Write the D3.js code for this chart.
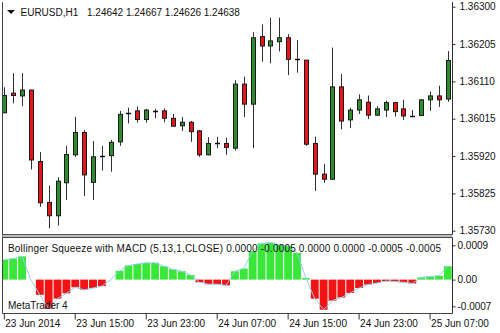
<!DOCTYPE html>
<html><head><meta charset="utf-8">
<script src="https://cdn.jsdelivr.net/npm/d3@7"></script>
<style>html,body{margin:0;padding:0;background:#fff;}svg{display:block;}</style>
</head><body>
<svg id="c" width="500" height="333"></svg>
<script>
// ---- data ----
const times = [
 "23 Jun 07:00","23 Jun 08:00","23 Jun 09:00","23 Jun 10:00","23 Jun 11:00","23 Jun 12:00","23 Jun 13:00","23 Jun 14:00",
 "23 Jun 15:00","23 Jun 16:00","23 Jun 17:00","23 Jun 18:00","23 Jun 19:00","23 Jun 20:00","23 Jun 21:00","23 Jun 22:00",
 "23 Jun 23:00","24 Jun 00:00","24 Jun 01:00","24 Jun 02:00","24 Jun 03:00","24 Jun 04:00","24 Jun 05:00","24 Jun 06:00",
 "24 Jun 07:00","24 Jun 08:00","24 Jun 09:00","24 Jun 10:00","24 Jun 11:00","24 Jun 12:00","24 Jun 13:00","24 Jun 14:00",
 "24 Jun 15:00","24 Jun 16:00","24 Jun 17:00","24 Jun 18:00","24 Jun 19:00","24 Jun 20:00","24 Jun 21:00","24 Jun 22:00",
 "24 Jun 23:00","25 Jun 00:00","25 Jun 01:00","25 Jun 02:00","25 Jun 03:00","25 Jun 04:00","25 Jun 05:00","25 Jun 06:00",
 "25 Jun 07:00","25 Jun 08:00","25 Jun 09:00"];
const open  = [1.36030,1.36080,1.36073,1.36088,1.35906,1.35802,1.35768,1.35852,1.35923,1.35980,1.35853,1.35920,1.35921,1.35956,1.36030,1.36035,1.36013,1.36035,1.36035,1.36016,1.35997,1.36006,1.35984,1.35923,1.35952,1.35952,1.35940,1.36103,1.36052,1.36224,1.36200,1.36211,1.36221,1.36166,1.36164,1.35952,1.35874,1.35861,1.36096,1.36012,1.36037,1.36057,1.36024,1.36037,1.36056,1.36040,1.36023,1.36023,1.36063,1.36073,1.36065];
const high  = [1.36095,1.36131,1.36131,1.36088,1.35930,1.35845,1.35866,1.35946,1.36020,1.35986,1.35958,1.35946,1.35961,1.36035,1.36043,1.36046,1.36040,1.36040,1.36041,1.36027,1.36019,1.36009,1.35986,1.35968,1.35969,1.35967,1.36113,1.36122,1.36235,1.36255,1.36272,1.36272,1.36230,1.36215,1.36164,1.35969,1.35900,1.36196,1.36129,1.36043,1.36077,1.36074,1.36047,1.36061,1.36058,1.36063,1.36037,1.36064,1.36084,1.36099,1.36187];
const low   = [1.36029,1.36054,1.36047,1.35886,1.35791,1.35736,1.35743,1.35808,1.35918,1.35818,1.35808,1.35883,1.35880,1.35946,1.36003,1.36005,1.36005,1.36016,1.36006,1.35995,1.35984,1.35956,1.35918,1.35922,1.35940,1.35923,1.35934,1.36019,1.35940,1.36160,1.36156,1.36186,1.36126,1.36132,1.35946,1.35831,1.35852,1.35859,1.35988,1.35991,1.36027,1.36014,1.36022,1.36019,1.36020,1.36012,1.36020,1.36022,1.36035,1.36045,1.36058];
const close = [1.36074,1.36074,1.36088,1.35910,1.35801,1.35768,1.35856,1.35924,1.35980,1.35872,1.35918,1.35920,1.35955,1.36026,1.36030,1.36013,1.36037,1.36035,1.36016,1.35996,1.36006,1.35982,1.35923,1.35952,1.35952,1.35942,1.36103,1.36052,1.36221,1.36200,1.36213,1.36221,1.36166,1.36166,1.35950,1.35874,1.35861,1.36096,1.36009,1.36037,1.36063,1.36024,1.36040,1.36056,1.36033,1.36022,1.36023,1.36063,1.36073,1.36063,1.36163];
const hist  = [0.00052,0.00055,0.00061,0.00000,-0.00040,-0.00076,-0.00050,-0.00036,-0.00020,-0.00027,-0.00022,-0.00017,0.00000,0.00023,0.00037,0.00041,0.00044,0.00044,0.00035,0.00027,0.00022,0.00012,-0.00007,-0.00012,-0.00012,-0.00015,0.00022,0.00029,0.00075,0.00095,0.00097,0.00092,0.00088,0.00070,0.00004,-0.00050,-0.00079,-0.00055,-0.00047,-0.00035,-0.00022,-0.00013,-0.00009,-0.00004,-0.00005,-0.00007,-0.00010,0.00006,0.00008,0.00010,0.00035];
const priceTicks = [1.36300,1.36205,1.36110,1.36015,1.35920,1.35825,1.35730];
const macdTicks = [0.0009,0,-0.0007];
const macdTickLabels = ["0.0009","0.00","-0.0007"];
const xTickTimes = ["23 Jun 07:00","23 Jun 15:00","23 Jun 23:00","24 Jun 07:00","24 Jun 15:00","24 Jun 23:00","25 Jun 07:00"];
const xTickLabels = ["23 Jun 2014","23 Jun 15:00","23 Jun 23:00","24 Jun 07:00","24 Jun 15:00","24 Jun 23:00","25 Jun 07:00"];
const headerSymbol = "EURUSD,H1";
const headerQuote = "1.24642 1.24667 1.24626 1.24638";
const indTitle = "Bollinger Squeeze with MACD (5,13,1,CLOSE) 0.0000 -0.0005 0.0000 0.0000 -0.0005 -0.0005";

// ---- layout ----
const FONT = "'Liberation Sans', Arial, sans-serif";
const svg = d3.select("#c");
const axisX = 452.5, leftX = 2.5;
const mainTop = 2, mainBot = 234.5, subTop = 237.5, subBot = 313.5;

const x = d3.scaleBand().domain(times).range([-0.13, 452.24]).padding(0);
const bw = x.bandwidth();
const cx = t => x(t) + bw / 2;
const y = d3.scaleLinear().domain([1.35730, 1.36300]).range([230.7, 6.7]);
const ym = d3.scaleLinear().domain([-0.0007, 0.0009]).range([306.3, 245.3]);

svg.append("rect").attr("width",500).attr("height",333).attr("fill","#fff");

const defs = svg.append("defs");
defs.append("clipPath").attr("id","cm").append("rect").attr("x",leftX+0.5).attr("y",mainTop).attr("width",axisX-leftX-1).attr("height",mainBot-mainTop);
defs.append("clipPath").attr("id","cs").append("rect").attr("x",leftX+0.5).attr("y",subTop+0.5).attr("width",axisX-leftX-1).attr("height",subBot-subTop-1);

// ---- candles ----
const data = times.map((t,i)=>({t,o:open[i],h:high[i],l:low[i],c:close[i]}));
const gm = svg.append("g").attr("clip-path","url(#cm)");
const cg = gm.selectAll("g.cdl").data(data).join("g").attr("class","cdl");
cg.append("line")
  .attr("x1",d=>Math.round(cx(d.t))+0.5).attr("x2",d=>Math.round(cx(d.t))+0.5)
  .attr("y1",d=>y(d.h)).attr("y2",d=>y(d.l))
  .attr("stroke","#303030").attr("stroke-width",1);
cg.filter(d=>Math.abs(d.o-d.c)>=0.00002).append("rect")
  .attr("x",d=>Math.round(cx(d.t))-1.5)
  .attr("y",d=>y(Math.max(d.o,d.c)))
  .attr("width",4)
  .attr("height",d=>Math.max(1,y(Math.min(d.o,d.c))-y(Math.max(d.o,d.c))))
  .attr("fill",d=>d.c>d.o?"#2e8b2e":"#e8141c")
  .attr("stroke","#1a1a1a").attr("stroke-width",1);
cg.filter(d=>Math.abs(d.o-d.c)<0.00002).append("line")
  .attr("x1",d=>Math.round(cx(d.t))-2).attr("x2",d=>Math.round(cx(d.t))+3)
  .attr("y1",d=>Math.round(y(d.c))+0.5).attr("y2",d=>Math.round(y(d.c))+0.5)
  .attr("stroke","#111").attr("stroke-width",1.5);

// ---- histogram ----
const hdata = times.map((t,i)=>({t,v:hist[i]}));
const gs = svg.append("g").attr("clip-path","url(#cs)");
gs.selectAll("rect.h").data(hdata.filter(d=>d.v!==0)).join("rect").attr("class","h")
  .attr("x",d=>x(d.t)+0.5).attr("width",bw-1)
  .attr("y",d=>Math.min(ym(0),ym(d.v)))
  .attr("height",d=>Math.abs(ym(d.v)-ym(0)))
  .attr("fill",d=>d.v>0?"#3be63b":"#f01414");
gs.append("path").datum(hdata)
  .attr("d",d3.line().x(d=>cx(d.t)).y(d=>ym(d.v)))
  .attr("fill","none").attr("stroke","#8fd0ee").attr("stroke-width",1);

// ---- frames ----
svg.append("line").attr("x1",leftX).attr("x2",leftX).attr("y1",mainTop).attr("y2",subBot).attr("stroke","#444");
svg.append("line").attr("x1",leftX).attr("x2",axisX).attr("y1",mainBot).attr("y2",mainBot).attr("stroke","#555");
svg.append("rect").attr("x",leftX).attr("y",mainBot+0.5).attr("width",axisX-leftX).attr("height",2.5).attr("fill","#bdbdbd");
svg.append("line").attr("x1",leftX).attr("x2",axisX).attr("y1",subTop).attr("y2",subTop).attr("stroke","#444");
svg.append("line").attr("x1",leftX).attr("x2",axisX).attr("y1",subBot).attr("y2",subBot).attr("stroke","#444");

// ---- axes ----
const ay = svg.append("g").attr("transform",`translate(${axisX},0)`)
  .call(d3.axisRight(y).tickValues(priceTicks).tickSize(3).tickPadding(4).tickFormat(d3.format(".5f")));
ay.select(".domain").attr("d",`M0,${mainTop}V${mainBot}`).attr("stroke","#333");
ay.selectAll("text").attr("font-family",FONT).attr("font-size","10px").attr("fill","#111");
ay.selectAll(".tick line").attr("stroke","#333");

const am = svg.append("g").attr("transform",`translate(${axisX},0)`)
  .call(d3.axisRight(ym).tickValues(macdTicks).tickSize(3).tickPadding(2).tickFormat((d,i)=>macdTickLabels[i]));
am.select(".domain").attr("d",`M0,${subTop}V${subBot}`).attr("stroke","#333");
am.selectAll("text").attr("font-family",FONT).attr("font-size","10px").attr("fill","#111");
am.selectAll(".tick line").attr("stroke","#333");

const ax = svg.append("g").attr("transform",`translate(0,${subBot})`)
  .call(d3.axisBottom(x).tickValues(xTickTimes).tickSizeInner(6).tickSizeOuter(0).tickFormat((d,i)=>xTickLabels[i]));
ax.select(".domain").remove();
ax.selectAll(".tick line").attr("stroke","#333");
ax.selectAll("text").attr("font-family",FONT).attr("font-size","10px").attr("fill","#111")
  .attr("text-anchor","start").attr("x",1).attr("y",6);

// ---- texts ----
svg.append("path").attr("d","M7,10 L15,10 L11,14 Z").attr("fill","#111");
svg.append("text").attr("x",20.5).attr("y",16).attr("font-family",FONT).attr("font-size","10px").attr("fill","#111").text(headerSymbol);
svg.append("text").attr("x",87).attr("y",16).attr("font-family",FONT).attr("font-size","10px").attr("fill","#111").text(headerQuote);
svg.append("text").attr("x",8).attr("y",251.5).attr("font-family",FONT).attr("font-size","10px").attr("fill","#111")
  .attr("textLength",433).attr("lengthAdjust","spacing").text(indTitle);
svg.append("text").attr("x",8).attr("y",308.5).attr("font-family",FONT).attr("font-size","10px").attr("fill","#111").text("MetaTrader 4");
</script>
</body></html>
